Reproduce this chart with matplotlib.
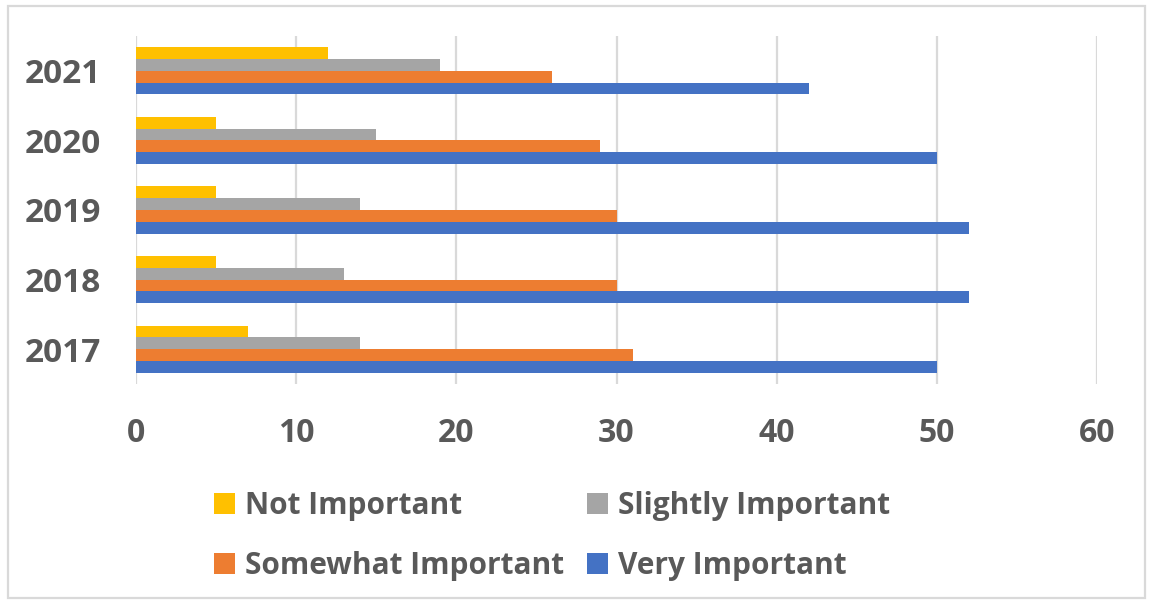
import numpy as np
import matplotlib.pyplot as plt
from matplotlib.patches import Rectangle

plt.rcParams['font.family'] = ['Open Sans', 'DejaVu Sans']

# data
years = ['2017', '2018', '2019', '2020', '2021']
very_important = [50, 52, 52, 50, 42]
somewhat_important = [31, 30, 30, 29, 26]
slightly_important = [14, 13, 14, 15, 19]
not_important = [7, 5, 5, 5, 12]

series = [
    ('Very Important', very_important, '#4472C4'),
    ('Somewhat Important', somewhat_important, '#ED7D31'),
    ('Slightly Important', slightly_important, '#A5A5A5'),
    ('Not Important', not_important, '#FFC000'),
]

text_color = '#595959'
grid_color = '#D9D9D9'

fig = plt.figure(figsize=(11.49, 6.01), dpi=100)
ax = fig.add_axes([136 / 1149, 1 - 384 / 601, (1097 - 136) / 1149, 348 / 601])

y = np.arange(len(years))
bar_h = 0.17
handles = {}
for i, (name, vals, col) in enumerate(series):
    offs = (i - 1.5) * bar_h
    b = ax.barh(y + offs, vals, height=bar_h, color=col, zorder=3)
    handles[name] = b

ax.set_xlim(0, 60)
ax.set_ylim(-0.5, 4.5)
ax.set_xticks(range(0, 61, 10))
ax.set_yticks(y)
ax.set_yticklabels(years)
ax.grid(axis='x', color=grid_color, linewidth=1.6, zorder=0)
ax.tick_params(length=0, labelcolor=text_color)
ax.tick_params(axis='y', labelsize=24, pad=25)
ax.tick_params(axis='x', labelsize=23, pad=24)
for lbl in ax.get_xticklabels() + ax.get_yticklabels():
    lbl.set_fontweight('bold')
for s in ax.spines.values():
    s.set_visible(False)

order = ['Not Important', 'Somewhat Important', 'Slightly Important', 'Very Important']
leg = fig.legend([handles[n] for n in order], order, ncol=2,
                 loc='center left', bbox_to_anchor=(199 / 1149, 1 - 536 / 601),
                 frameon=False, borderpad=0, handlelength=0.7, handleheight=0.7,
                 handletextpad=0.35, columnspacing=0.75, labelspacing=1.0,
                 prop={'weight': 'bold', 'size': 21.5})
for t in leg.get_texts():
    t.set_color(text_color)

fig.patches.append(Rectangle((8 / 1149, 3 / 601), 1137 / 1149, 592 / 601,
                             transform=fig.transFigure, fill=False,
                             edgecolor=grid_color, linewidth=1.6))

fig.savefig('out.png', dpi=100)
